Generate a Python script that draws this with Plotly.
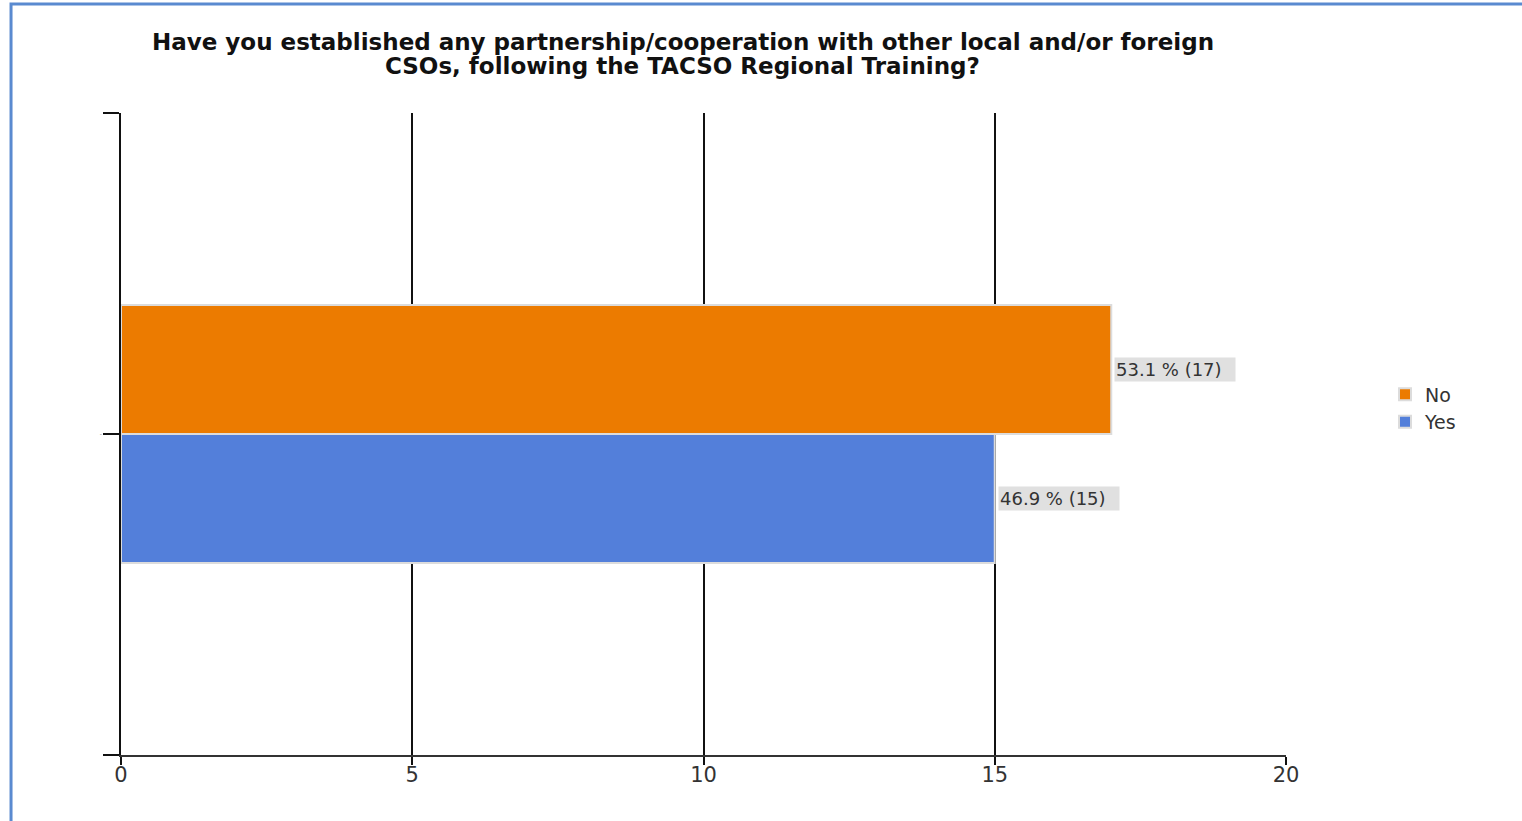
import plotly.graph_objects as go

# Survey question and responses
question_lines = [
    "Have you established any partnership/cooperation with other local and/or foreign",
    "CSOs, following the TACSO Regional Training?",
]
categories = ["-"]
series_names = ["Yes", "No"]
counts = {"Yes": [15], "No": [17]}
percents = {"Yes": [46.9], "No": [53.1]}
colors = {"Yes": "#537fda", "No": "#ec7b00"}

x_ticks = [0, 5, 10, 15, 20]

BARGAP = 0.598
FONT = "DejaVu Sans"

positions = list(range(len(categories)))

fig = go.Figure()
for name in series_names:
    fig.add_trace(go.Bar(
        name=name,
        orientation="h",
        x=counts[name],
        y=positions,
        marker=dict(color=colors[name], line=dict(color="#dcdcdc", width=2)),
        hoverinfo="skip",
    ))

# value labels with grey backgrounds at the end of each bar
half = (1 - BARGAP) / 2
for k, name in enumerate(series_names):
    offset = -half / 2 if k == 0 else half / 2
    for pos, c, p in zip(positions, counts[name], percents[name]):
        fig.add_annotation(
            x=c, y=pos + offset, xref="x", yref="y",
            text=f"{p} % ({c})",
            showarrow=False, xanchor="left", yanchor="middle",
            xshift=3, width=118, align="left",
            bgcolor="#e0e0e0", borderpad=1,
            font=dict(family=FONT, size=18, color="#333333"),
        )

# two-line bold heading
for line, ypos in zip(question_lines, [1.1106, 1.0732]):
    fig.add_annotation(
        x=0.4824, y=ypos, xref="paper", yref="paper",
        text=f"<b>{line}</b>", showarrow=False,
        xanchor="center", yanchor="middle",
        font=dict(family=FONT, size=23, color="#111111"),
    )

# page frame
fig.add_shape(
    type="rect", xref="paper", yref="paper",
    x0=-0.0944, x1=1.25, y0=-0.2, y1=1.1698,
    line=dict(color="#5a8ad0", width=3),
    fillcolor="rgba(0,0,0,0)", layer="below",
)

fig.update_layout(
    width=1522, height=821,
    margin=dict(l=121, r=236, t=113, b=66),
    paper_bgcolor="white", plot_bgcolor="white",
    barmode="group", bargap=BARGAP, bargroupgap=0,
    xaxis=dict(
        range=[0, 20], tickvals=x_ticks,
        showgrid=True, gridcolor="#111111", gridwidth=2,
        showline=True, linecolor="#333333", linewidth=2,
        ticks="outside", ticklen=8, tickcolor="#111111", tickwidth=2,
        ticklabelstandoff=-8,
        tickfont=dict(family=FONT, size=21, color="#333333"),
        zeroline=False, fixedrange=True,
    ),
    yaxis=dict(
        range=[-0.5, 0.5],
        tickvals=[-0.5] + positions + [0.5],
        ticktext=[""] + categories + [""],
        showgrid=False, zeroline=False,
        showline=True, linecolor="#111111", linewidth=2,
        ticks="outside", ticklen=16, tickcolor="#111111", tickwidth=2,
        tickfont=dict(family=FONT, size=6, color="#777777"),
    ),
    legend=dict(
        x=1.085, xanchor="left", y=0.54, yanchor="middle",
        traceorder="reversed",
        font=dict(family=FONT, size=19, color="#333333"),
        bgcolor="rgba(0,0,0,0)",
    ),
    showlegend=True,
)

fig.write_html("out.html")
